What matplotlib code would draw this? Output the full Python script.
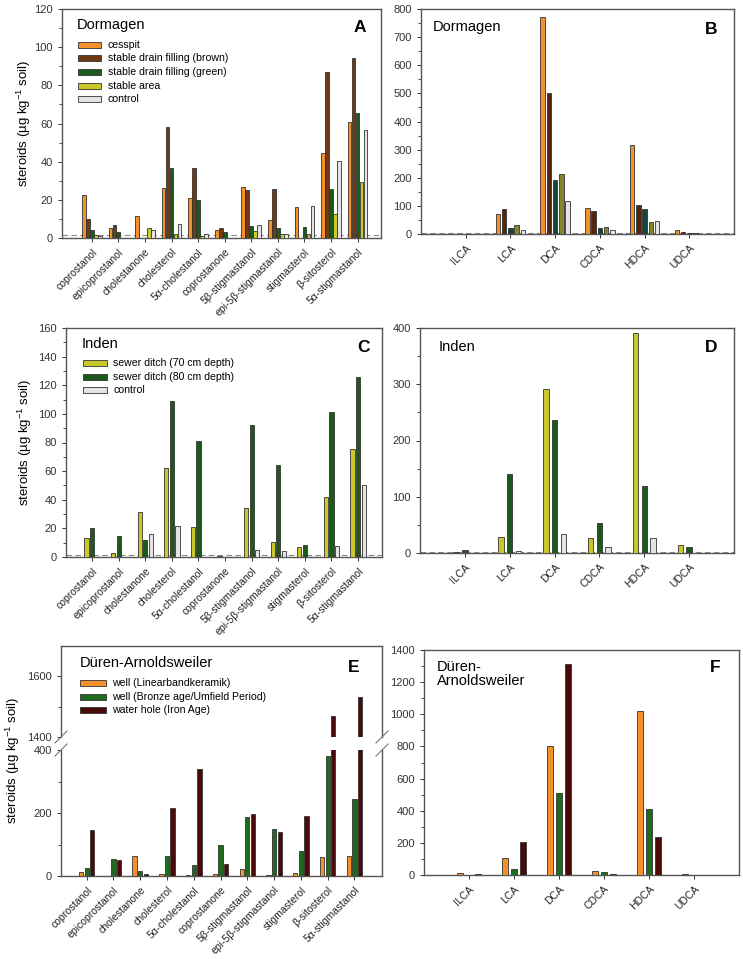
import matplotlib
matplotlib.use("Agg")
import matplotlib.pyplot as plt
import numpy as np

plt.rcParams['font.family'] = ['Liberation Sans', 'DejaVu Sans']
plt.rcParams['mathtext.fontset'] = 'custom'
plt.rcParams['mathtext.rm'] = 'Liberation Sans'
plt.rcParams['mathtext.it'] = 'Liberation Sans:italic'

# ---------------- data ----------------
steroids = ['coprostanol', 'epicoprostanol', 'cholestanone', 'cholesterol',
            '5α-cholestanol', 'coprostanone', '5β-stigmastanol',
            'epi-5β-stigmastanol', 'stigmasterol', 'β-sitosterol', '5α-stigmastanol']
acids = ['ILCA', 'LCA', 'DCA', 'CDCA', 'HDCA', 'UDCA']

dorm_series = ['cesspit', 'stable drain filling (brown)', 'stable drain filling (green)',
               'stable area', 'control']
dorm_cesspit = [22.3, 5.0, 11.3, 26.0, 20.7, 4.0, 26.5, 9.5, 16.3, 44.8, 61.0]
dorm_brown = [10.0, 7.0, 0.0, 58.0, 36.5, 5.0, 25.0, 25.5, 0.0, 87.0, 94.2]
dorm_green = [4.0, 3.0, 0.0, 36.5, 20.0, 3.0, 6.5, 5.0, 5.8, 25.5, 65.5]
dorm_area = [1.5, 0.0, 5.5, 2.0, 1.0, 0.0, 3.5, 2.0, 2.3, 12.5, 29.6]
dorm_control = [1.0, 0.0, 4.0, 7.5, 2.0, 0.0, 7.0, 2.0, 16.7, 40.5, 56.5]

dormB_cesspit = [0.0, 70, 770, 94, 317, 15]
dormB_brown = [1.0, 89, 500, 83, 103, 7]
dormB_green = [0.5, 21, 193, 21, 90, 3]
dormB_area = [0.0, 31, 213, 24, 43, 2]
dormB_control = [0.0, 14, 118, 14, 47, 1]

inden_series = ['sewer ditch (70 cm depth)', 'sewer ditch (80 cm depth)', 'control']
inden_70 = [13.5, 2.5, 31.5, 62.5, 21.0, 0.5, 34.5, 10.5, 7.0, 42.0, 75.5]
inden_80 = [20.3, 14.5, 12.0, 109.0, 81.0, 0.0, 92.0, 64.5, 8.5, 101.5, 126.0]
inden_control = [0.0, 0.0, 16.0, 21.5, 0.0, 0.0, 5.0, 4.0, 0.0, 7.8, 50.0]

indenD_70 = [1, 28, 291, 27, 391, 14]
indenD_80 = [5, 140, 236, 54, 119, 10]
indenD_control = [0, 3, 33, 11, 27, 0]

duren_series = ['well (Linearbandkeramik)', 'well (Bronze age/Umfield Period)',
                'water hole (Iron Age)']
duren_lbk = [13, 1, 63, 7, 2, 7, 22, 3, 8, 61, 63]
duren_bronze = [26, 55, 17, 65, 36, 97, 187, 150, 80, 380, 245]
duren_iron = [146, 52, 5, 216, 341, 38, 198, 139, 189, 1468, 1532]

durenF_lbk = [13, 108, 800, 23, 1020, 8]
durenF_bronze = [3, 38, 512, 20, 410, 0]
durenF_iron = [4, 208, 1310, 8, 237, 0]

# ---------------- styles ----------------
c_orange = '#F5912A'
c_brown = '#6E3B14'
c_green = '#1B5A1B'
c_yellow = '#C8C82A'
c_ctrl = '#E4E4E4'
cB = ['#F2902C', '#55260F', '#12463A', '#85852E', '#E4E4E4']
c_grn2 = '#1E6B1E'
c_maroon = '#4A0A0A'
EDGE = '#333333'
SPINE = '#555555'

W, H = 743, 959
fig = plt.figure(figsize=(W / 100, H / 100), dpi=100)


def fx(px):
    return px / W


def fy(py):
    return 1 - py / H


def add_ax(l, r, t, b):
    return fig.add_axes([l / W, 1 - b / H, (r - l) / W, (b - t) / H])


def style(ax):
    for s in ax.spines.values():
        s.set_color(SPINE)
        s.set_linewidth(1.0)
    ax.tick_params(axis='both', direction='out', length=3, width=0.7,
                   colors='#333333', labelsize=8)
    ax.tick_params(axis='y', which='minor', length=2, width=0.6, colors='#333333')


def bars(ax, series, colors, spacing, width):
    n = len(series)
    x = np.arange(len(series[0]))
    for i, (vals, col) in enumerate(zip(series, colors)):
        off = (i - (n - 1) / 2) * spacing
        ax.bar(x + off, vals, width=width, color=col, edgecolor=EDGE, linewidth=0.6,
               zorder=3)
    return x


def xlabels(ax, x, names):
    ax.set_xticks(x)
    ax.set_xticklabels(names, rotation=45, ha='right', rotation_mode='anchor',
                       fontsize=7.5, color='#222222')


def dashed(ax, y):
    ax.axhline(y, color='#888888', lw=0.8, ls=(0, (5, 3)), zorder=2)


def legend_block(title, tx, ty, labels, colors, first_y, step, patch_l, patch_r, text_l):
    fig.text(fx(tx), fy(ty), title, ha='left', va='center', fontsize=10.5)
    for i, (lab, col) in enumerate(zip(labels, colors)):
        yc = first_y + i * step
        fig.add_artist(plt.Rectangle((fx(patch_l), fy(yc + 3)), fx(patch_r - patch_l),
                                     (6 / H), facecolor=col, edgecolor=EDGE,
                                     linewidth=0.6, transform=fig.transFigure))
        fig.text(fx(text_l), fy(yc), lab, ha='left', va='center', fontsize=7.6)


ylab = 'steroids (µg kg$^{-1}$ soil)'

# ---------------- A ----------------
axA = add_ax(62, 381, 9, 238)
style(axA)
x = bars(axA, [dorm_cesspit, dorm_brown, dorm_green, dorm_area, dorm_control],
         [c_orange, c_brown, c_green, c_yellow, c_ctrl], 0.15, 0.14)
dashed(axA, 1.5)
axA.set_xlim(-1.12, 10.88)
axA.set_ylim(0, 120)
axA.set_yticks(np.arange(0, 121, 20))
axA.set_yticks(np.arange(0, 121, 10), minor=True)
xlabels(axA, x, steroids)
axA.set_ylabel(ylab, fontsize=9.5, labelpad=1)
legend_block('Dormagen', 77, 25, dorm_series,
             [c_orange, c_brown, c_green, c_yellow, c_ctrl], 44.5, 13.7, 78, 101, 108)
fig.text(fx(360), fy(28), 'A', ha='center', va='center', fontsize=12.5,
         fontweight='bold')

# ---------------- B ----------------
axB = add_ax(421, 734, 9, 234)
style(axB)
x = bars(axB, [dormB_cesspit, dormB_brown, dormB_green, dormB_area, dormB_control],
         cB, 0.14, 0.10)
dashed(axB, 3)
axB.set_xlim(-1, 6)
axB.set_ylim(0, 800)
axB.set_yticks(np.arange(0, 801, 100))
axB.set_yticks(np.arange(0, 801, 50), minor=True)
xlabels(axB, x, acids)
fig.text(fx(433), fy(27), 'Dormagen', ha='left', va='center', fontsize=10.5)
fig.text(fx(711), fy(30), 'B', ha='center', va='center', fontsize=12.5,
         fontweight='bold')

# ---------------- C ----------------
axC = add_ax(66, 382, 328, 557)
style(axC)
x = bars(axC, [inden_70, inden_80, inden_control], [c_yellow, c_green, c_ctrl],
         0.21, 0.16)
dashed(axC, 1.5)
axC.set_xlim(-0.98, 10.9)
axC.set_ylim(0, 160)
axC.set_yticks(np.arange(0, 161, 20))
axC.set_yticks(np.arange(0, 161, 10), minor=True)
xlabels(axC, x, steroids)
axC.set_ylabel(ylab, fontsize=9.5, labelpad=3)
legend_block('Inden', 82, 344, inden_series, [c_yellow, c_green, c_ctrl],
             363, 13.5, 83, 107, 113)
fig.text(fx(363), fy(347), 'C', ha='center', va='center', fontsize=12.5,
         fontweight='bold')

# ---------------- D ----------------
axD = add_ax(420, 734, 328, 553)
style(axD)
x = bars(axD, [indenD_70, indenD_80, indenD_control], [c_yellow, c_green, c_ctrl],
         0.195, 0.12)
dashed(axD, 2)
axD.set_xlim(-1, 6)
axD.set_ylim(0, 400)
axD.set_yticks(np.arange(0, 401, 100))
axD.set_yticks(np.arange(0, 401, 50), minor=True)
xlabels(axD, x, acids)
fig.text(fx(439), fy(347), 'Inden', ha='left', va='center', fontsize=10.5)
fig.text(fx(711), fy(347), 'D', ha='center', va='center', fontsize=12.5,
         fontweight='bold')

# ---------------- E (broken axis) ----------------
E_cols = [c_orange, c_grn2, c_maroon]
axEu = add_ax(61, 382, 646, 737)
axEl = add_ax(61, 382, 750, 876)
for ax in (axEu, axEl):
    style(ax)
    x = bars(ax, [duren_lbk, duren_bronze, duren_iron], E_cols, 0.21, 0.16)
    ax.set_xlim(-0.96, 11.03)
axEu.set_ylim(1400, 1700)
axEu.set_yticks([1400, 1600])
axEu.set_yticks([1500], minor=True)
axEu.spines['bottom'].set_visible(False)
axEu.tick_params(axis='x', bottom=False, labelbottom=False)
axEl.set_ylim(0, 400)
axEl.set_yticks([0, 200, 400])
axEl.set_yticks([100, 300], minor=True)
axEl.spines['top'].set_visible(False)
dashed(axEl, 1)
xlabels(axEl, x, steroids)
legend_block('Düren-Arnoldsweiler', 80, 663, duren_series, E_cols,
             683, 13.5, 80, 106, 112)
fig.text(fx(354), fy(667), 'E', ha='center', va='center', fontsize=12.5,
         fontweight='bold')
# break marks
for xp in (61, 382):
    for yp in (737, 750):
        fig.add_artist(plt.Line2D([fx(xp - 6), fx(xp + 6)],
                                  [fy(yp + 6), fy(yp - 6)],
                                  color='#777777', lw=0.8))
fig.text(fx(13), fy(760), ylab, rotation=90, ha='center', va='center',
         fontsize=9.5)

# ---------------- F ----------------
axF = add_ax(424, 739, 650, 875)
style(axF)
x = bars(axF, [durenF_lbk, durenF_bronze, durenF_iron], E_cols, 0.2, 0.13)
axF.set_xlim(-1, 6)
axF.set_ylim(0, 1400)
axF.set_yticks(np.arange(0, 1401, 200))
axF.set_yticks(np.arange(0, 1401, 100), minor=True)
xlabels(axF, x, acids)
fig.text(fx(437), fy(674), 'Düren-\nArnoldsweiler', ha='left', va='center',
         fontsize=10.5, linespacing=1.05)
fig.text(fx(715), fy(668), 'F', ha='center', va='center', fontsize=12.5,
         fontweight='bold')

fig.savefig('out.png', dpi=100)
